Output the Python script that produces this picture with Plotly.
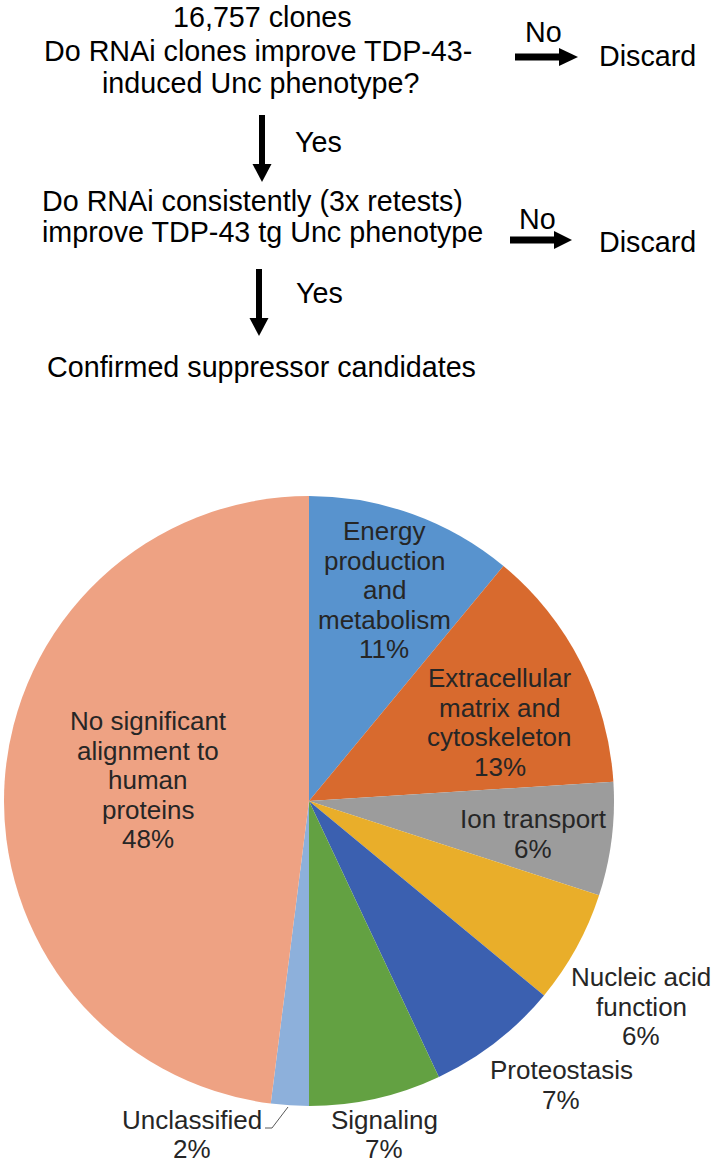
import plotly.graph_objects as go

# ---------------- data ----------------
categories = [
    "Energy production and metabolism",
    "Extracellular matrix and cytoskeleton",
    "Ion transport",
    "Nucleic acid function",
    "Proteostasis",
    "Signaling",
    "Unclassified",
    "No significant alignment to human proteins",
]
values = [11, 13, 6, 6, 7, 7, 2, 48]
label_lines = [
    ["Energy", "production", "and", "metabolism"],
    ["Extracellular", "matrix and", "cytoskeleton"],
    ["Ion transport"],
    ["Nucleic acid", "function"],
    ["Proteostasis"],
    ["Signaling"],
    ["Unclassified"],
    ["No significant", "alignment to", "human", "proteins"],
]
flow_texts = [
    "16,757 clones",
    "Do RNAi clones improve TDP-43-",
    "induced Unc phenotype?",
    "Do RNAi consistently (3x retests)",
    "improve TDP-43 tg Unc phenotype",
    "Confirmed suppressor candidates",
]
branch_yes = "Yes"
branch_no = "No"
discard_text = "Discard"

# ---------------- styles / layout ----------------
W, H = 714, 1164
colors = ["#5893CE", "#D86A2E", "#9C9C9C", "#E9AE2A", "#3B60B0", "#63A142", "#8DB0DB", "#EEA283"]
FONT = "Liberation Sans, Arial, sans-serif"
TXT = "#262626"

def px(x):
    return x / W

def py(y):
    return 1 - y / H

cx, cy, R = 309, 801, 305

fig = go.Figure(go.Pie(
    labels=categories,
    values=values,
    sort=False,
    direction="clockwise",
    rotation=0,
    marker=dict(colors=colors, line=dict(width=0)),
    textinfo="none",
    hoverinfo="label+percent",
    domain=dict(x=[px(cx - R), px(cx + R)], y=[py(cy + R), py(cy - R)]),
    showlegend=False,
))

annotations = []

def add_text(text, x, y, size, xanchor="center", color=TXT):
    annotations.append(dict(
        text=text, x=px(x), y=py(y), xref="paper", yref="paper",
        xanchor=xanchor, yanchor="middle", showarrow=False,
        font=dict(family=FONT, size=size, color=color),
    ))

# pie label placement (pixel centres of first line) and line spacing
label_pos = [
    (384, 531), (500, 678), (533, 819), (641, 977),
    (561, 1070), (384, 1120), (192, 1120), (148, 721),
]
LS = 29.6
for lines, v, (lx, ly) in zip(label_lines, values, label_pos):
    all_lines = lines + [f"{v}%"]
    for i, ln in enumerate(all_lines):
        add_text(ln, lx, ly + i * (LS if ly < 1100 else 28.5), 26)

# flowchart text
FS = 28.7
BLK = "#000000"
add_text(flow_texts[0], 262, 17, FS, color=BLK)
add_text(flow_texts[1], 258, 51, FS, color=BLK)
add_text(flow_texts[2], 260, 83, FS, color=BLK)
add_text(flow_texts[3], 40, 201, FS, xanchor="left", color=BLK)
add_text(flow_texts[4], 40, 232, FS, xanchor="left", color=BLK)
add_text(flow_texts[5], 261, 367, FS, color=BLK)
add_text(branch_yes, 293, 142, FS, xanchor="left", color=BLK)
add_text(branch_yes, 294, 293, FS, xanchor="left", color=BLK)
add_text(branch_no, 543, 32, FS, color=BLK)
add_text(branch_no, 537, 219, FS, color=BLK)
add_text(discard_text, 647, 56, FS, color=BLK)
add_text(discard_text, 647, 242, FS, color=BLK)

shapes = []

def line(x0, y0, x1, y1, w, color="#000000"):
    shapes.append(dict(type="line", xref="paper", yref="paper",
                       x0=px(x0), y0=py(y0), x1=px(x1), y1=py(y1),
                       line=dict(color=color, width=w)))

def tri(pts):
    path = "M " + " L ".join(f"{px(a)},{py(b)}" for a, b in pts) + " Z"
    shapes.append(dict(type="path", xref="paper", yref="paper", path=path,
                       fillcolor="#000000", line=dict(width=0)))

# vertical arrows
line(262, 115, 262, 166, 6)
tri([(252.5, 164), (271.5, 164), (262, 182)])
line(259, 269, 259, 320, 6)
tri([(249.5, 318), (268.5, 318), (259, 336)])
# horizontal arrows
line(515, 57, 561, 57, 7)
tri([(559, 48), (559, 66), (578, 57)])
line(510, 240, 556, 240, 7)
tri([(554, 231), (554, 249), (572, 240)])

# leader line for Unclassified
shapes.append(dict(type="path", xref="paper", yref="paper",
                   path=f"M {px(288)},{py(1107)} L {px(272)},{py(1128)} L {px(265)},{py(1128)}",
                   line=dict(color="#595959", width=1)))

fig.update_layout(
    width=W, height=H,
    margin=dict(l=0, r=0, t=0, b=0),
    paper_bgcolor="white", plot_bgcolor="white",
    annotations=annotations, shapes=shapes,
)

fig.write_html(
    "out.html",
    config={"displayModeBar": False},
    post_script="document.body.style.margin='0';document.body.style.overflow='hidden';",
)
